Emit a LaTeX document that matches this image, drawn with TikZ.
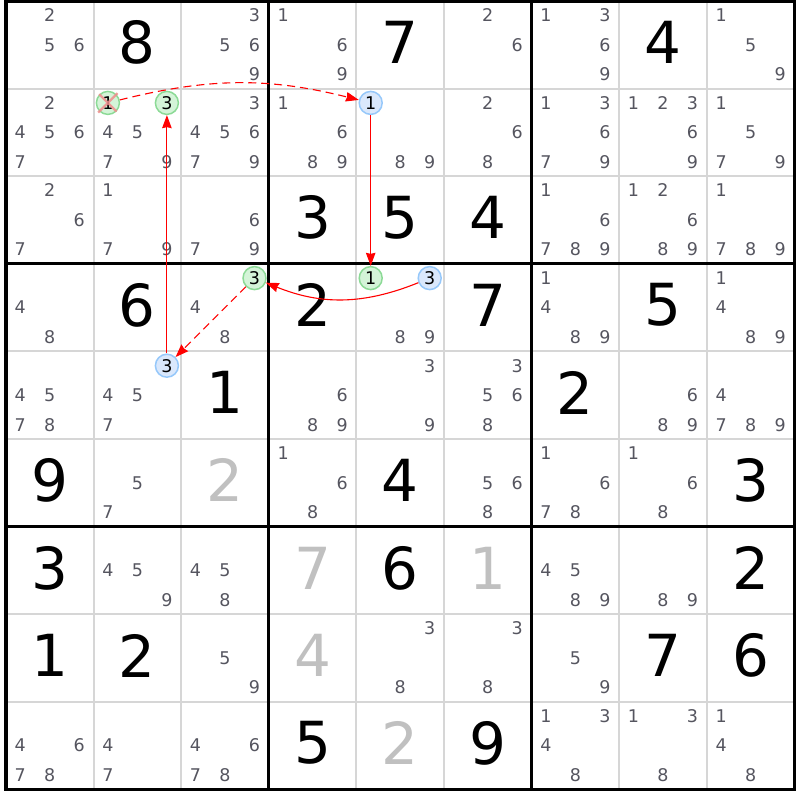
\documentclass[tikz,border=0pt]{standalone}
\usepackage{fontspec}
\setmainfont{DejaVu Sans}
\usetikzlibrary{arrows.meta}
\definecolor{candgray}{RGB}{85,85,95}
\definecolor{solvgray}{RGB}{192,192,192}
\definecolor{gridgray}{RGB}{214,214,214}
\definecolor{ongreen}{RGB}{140,218,150}
\definecolor{onfill}{RGB}{212,244,216}
\definecolor{offblue}{RGB}{150,200,250}
\definecolor{offfill}{RGB}{218,232,252}
\definecolor{crosspink}{RGB}{240,140,140}
\tikzset{
  given/.style = {inner sep=0pt, font=\fontsize{58}{58}\selectfont},% chiffre donne
  solved/.style = {given, text=solvgray},% chiffre trouve
  cand/.style = {inner sep=0pt, text=candgray,
    font=\fontsize{17.5}{17.5}\selectfont},% candidat
  cand_on/.style = {cand, circle, text=black, draw=ongreen, fill=onfill,
    line width=1.5pt, minimum size=23pt},% candidat vert
  cand_off/.style = {cand_on, draw=offblue, fill=offfill},% candidat bleu
  thin_line/.style = {draw=gridgray, line width=2pt},
  box_line/.style = {draw=black, line width=3.2pt},
  link/.style = {red, line width=1.1pt, -{Stealth[length=13pt,width=9.5pt,inset=1pt]}},% lien fort
  weak/.style = {link, dash pattern=on 8pt off 5pt}% lien faible
}

\begin{document}
\begin{tikzpicture}[x=1pt,y=-1pt]
    \useasboundingbox (0,0) rectangle (800,800);
    \foreach \r in {1,...,9}
      \foreach \c in {1,...,9}
        \coordinate (p\r\c) at ({6+(\c-0.5)*87.6},{1+(\r-0.5)*87.6});
    % grille
    \foreach \i in {0,...,9}{
      \draw[thin_line] ({6+\i*87.6},1) -- ({6+\i*87.6},789.4);
      \draw[thin_line] (6,{1+\i*87.6}) -- (794.4,{1+\i*87.6});
    }
    \foreach \i in {3,6}{
      \draw[box_line] ({6+\i*87.6},1) -- ({6+\i*87.6},789.4);
      \draw[box_line] (6,{1+\i*87.6}) -- (794.4,{1+\i*87.6});
    }
    \draw[box_line] (6,1) rectangle (794.4,789.4);
    % chiffres
    \foreach \r/\c/\d in {1/2/8, 1/5/7, 1/8/4, 3/4/3, 3/5/5, 3/6/4,
        4/2/6, 4/4/2, 4/6/7, 4/8/5, 5/3/1, 5/7/2, 6/1/9, 6/5/4, 6/9/3,
        7/1/3, 7/5/6, 7/9/2, 8/1/1, 8/2/2, 8/8/7, 8/9/6, 9/4/5, 9/6/9}
      \node[given] (g\r\c) at ([yshift=2.5pt]p\r\c) {\d};
    \foreach \r/\c/\d in {6/3/2, 7/4/7, 7/6/1, 8/4/4, 9/5/2}
      \node[solved] (g\r\c) at ([yshift=2.5pt]p\r\c) {\d};
    % candidats
    \foreach \r/\c/\ds in {1/1/{2,5,6}, 1/3/{3,5,6,9}, 1/4/{1,6,9}, 1/6/{2,6},
        1/7/{1,3,6,9}, 1/9/{1,5,9},
        2/1/{2,4,5,6,7}, 2/2/{4,5,7,9}, 2/3/{3,4,5,6,7,9}, 2/4/{1,6,8,9},
        2/5/{8,9}, 2/6/{2,6,8}, 2/7/{1,3,6,7,9}, 2/8/{1,2,3,6,9}, 2/9/{1,5,7,9},
        3/1/{2,6,7}, 3/2/{1,7,9}, 3/3/{6,7,9}, 3/7/{1,6,7,8,9},
        3/8/{1,2,6,8,9}, 3/9/{1,7,8,9},
        4/1/{4,8}, 4/3/{4,8}, 4/5/{8,9}, 4/7/{1,4,8,9}, 4/9/{1,4,8,9},
        5/1/{4,5,7,8}, 5/2/{4,5,7}, 5/4/{6,8,9}, 5/5/{3,9}, 5/6/{3,5,6,8},
        5/8/{6,8,9}, 5/9/{4,7,8,9},
        6/2/{5,7}, 6/4/{1,6,8}, 6/6/{5,6,8}, 6/7/{1,6,7,8}, 6/8/{1,6,8},
        7/2/{4,5,9}, 7/3/{4,5,8}, 7/7/{4,5,8,9}, 7/8/{8,9},
        8/3/{5,9}, 8/5/{3,8}, 8/6/{3,8}, 8/7/{5,9},
        9/1/{4,6,7,8}, 9/2/{4,7}, 9/3/{4,6,7,8}, 9/7/{1,3,4,8},
        9/8/{1,3,8}, 9/9/{1,4,8}}
      \foreach \d in \ds {
        \pgfmathsetmacro\dx{(mod(\d-1,3)-1)*29.5}
        \pgfmathsetmacro\dy{(int((\d-1)/3)-1)*29.5}
        \node[cand] (k\r\c\d) at ([shift={(\dx,\dy)}]p\r\c) {\d};
      }
    % chaine
    \node[cand_on] (a221) at ([shift={(-29.5,-29.5)}]p22) {1};
    \node[cand_on] (a223) at ([shift={(29.5,-29.5)}]p22) {3};
    \node[cand_off] (b251) at ([shift={(-29.5,-29.5)}]p25) {1};
    \node[cand_on] (a451) at ([shift={(-29.5,-29.5)}]p45) {1};
    \node[cand_off] (b453) at ([shift={(29.5,-29.5)}]p45) {3};
    \node[cand_on] (a433) at ([shift={(29.5,-29.5)}]p43) {3};
    \node[cand_off] (b523) at ([shift={(29.5,-29.5)}]p52) {3};
    \draw[crosspink, opacity=0.85, line width=2.2pt, shorten <=-1.5pt, shorten >=-1.5pt]
      (a221.north west) -- (a221.south east)
      (a221.north east) -- (a221.south west);
    \draw[weak] (a221) to[bend left=14] (b251);
    \draw[link] (b251) -- (a451);
    \draw[link] (b453) to[bend left=22] (a433);
    \draw[weak] (a433) -- (b523);
    \draw[link] (b523) -- (a223);
\end{tikzpicture}
\end{document}
